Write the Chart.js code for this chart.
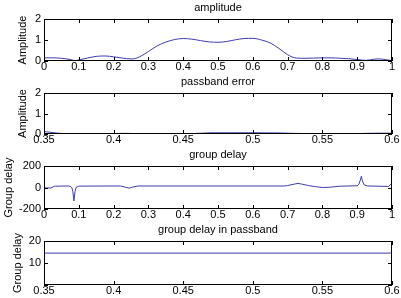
<!DOCTYPE html>
<html>
<head>
<meta charset="utf-8">
<script src="https://cdn.jsdelivr.net/npm/chart.js@4.4.1/dist/chart.umd.min.js"></script>
<style>
  body { margin: 0; background: #fff; width: 401px; height: 298px; overflow: hidden; position: relative; }
  canvas { position: absolute; left: 0; }
</style>
</head>
<body>
<canvas id="c1" width="401" height="75" style="top:0px"></canvas>
<canvas id="c2" width="401" height="74" style="top:75px"></canvas>
<canvas id="c3" width="401" height="74" style="top:149px"></canvas>
<canvas id="c4" width="401" height="75" style="top:223px"></canvas>
<script>
// data block
const ampFreq = [0, 0.025, 0.05, 0.075, 0.09, 0.1, 0.125, 0.15, 0.175, 0.2, 0.225, 0.25, 0.26, 0.275,
  0.3, 0.325, 0.35, 0.375, 0.4, 0.425, 0.45, 0.475, 0.5, 0.525, 0.55, 0.575, 0.6, 0.625, 0.65, 0.675,
  0.7, 0.725, 0.75, 0.775, 0.8, 0.825, 0.85, 0.875, 0.9, 0.925, 0.95, 0.96, 0.975, 1];
const ampValues = [0.15, 0.15, 0.13, 0.07, 0.02, 0.05, 0.14, 0.22, 0.24, 0.2, 0.14, 0.1, 0.11, 0.2,
  0.45, 0.72, 0.9, 1.02, 1.07, 1.04, 0.97, 0.91, 0.89, 0.93, 1.01, 1.07, 1.08, 1.0, 0.86, 0.6,
  0.3, 0.14, 0.13, 0.14, 0.15, 0.15, 0.13, 0.11, 0.07, 0.03, 0.09, 0.1, 0.08, 0.02];

const errFreq = [0.35, 0.355, 0.36, 0.365, 0.37, 0.38, 0.395, 0.4, 0.405, 0.41, 0.415, 0.42, 0.45,
  0.455, 0.46, 0.47, 0.48, 0.5, 0.52, 0.53, 0.54, 0.545, 0.55, 0.57, 0.575, 0.58, 0.59, 0.6];
const errValues = [0.12, 0.08, 0.04, 0.01, 0, 0, 0, 0.02, 0.03, 0.03, 0.02, 0.005, 0.005,
  0.02, 0.03, 0.06, 0.06, 0.06, 0.05, 0.03, 0.02, 0.01, 0, 0, 0.02, 0.03, 0.04, 0.04];

const delayFreq = [0, 0.02, 0.03, 0.07, 0.075, 0.08, 0.083, 0.086, 0.089, 0.092, 0.1, 0.22, 0.235,
  0.245, 0.255, 0.27, 0.69, 0.7, 0.72, 0.73, 0.74, 0.76, 0.78, 0.8, 0.82, 0.85, 0.9, 0.905, 0.909,
  0.912, 0.915, 0.92, 0.93, 0.99, 1];
const delayValues = [-5, -4, 12, 14, 12, 0, -40, -125, -40, 0, 13, 14, 2,
  -6, 4, 14, 14, 18, 32, 38, 32, 18, 8, 0, 2, 12, 16, 30, 70,
  105, 60, 25, 14, 10, 40];

const pbFreq = [0.35, 0.6];
const pbDelay = [14.5, 14.5];

// tick labels
const xTicksFull = [0, 0.1, 0.2, 0.3, 0.4, 0.5, 0.6, 0.7, 0.8, 0.9, 1];
const xTicksPass = [0.35, 0.4, 0.45, 0.5, 0.55, 0.6];
const yTicksAmp = [0, 1, 2];
const yTicksDelay = [-200, 0, 200];
const yTicksPbDelay = [0, 10, 20];

Chart.defaults.font.family = "'Liberation Sans', Arial, sans-serif";
Chart.defaults.font.size = 11;
Chart.defaults.color = '#000';

const lineColor = '#3c3cb0';

// box, inner ticks and title
const matlabAxes = {
  id: 'matlabAxes',
  afterDraw(chart, args, opts) {
    const { ctx, chartArea: { top, bottom, left, right } } = chart;
    ctx.save();
    ctx.strokeStyle = '#000';
    ctx.lineWidth = 1;
    ctx.strokeRect(left + 0.5, top + 0.5, right - left - 1, bottom - top - 1);
    ctx.beginPath();
    chart.scales.x.ticks.forEach(t => {
      const px = Math.round(chart.scales.x.getPixelForValue(t.value)) + 0.5;
      ctx.moveTo(px, bottom); ctx.lineTo(px, bottom - 4);
      ctx.moveTo(px, top); ctx.lineTo(px, top + 4);
    });
    chart.scales.y.ticks.forEach(t => {
      const py = Math.round(chart.scales.y.getPixelForValue(t.value)) + 0.5;
      ctx.moveTo(left, py); ctx.lineTo(left + 4, py);
      ctx.moveTo(right, py); ctx.lineTo(right - 4, py);
    });
    ctx.stroke();
    ctx.fillStyle = '#000';
    ctx.font = "11px 'Liberation Sans', Arial, sans-serif";
    ctx.textAlign = 'center';
    ctx.textBaseline = 'middle';
    ctx.fillText(opts.text, (left + right) / 2, top - 11);
    ctx.restore();
  }
};

const fmt = v => String(Number(v.toFixed(2)));

const makeChart = (id, p) => {
  const canvas = document.getElementById(id);
  return new Chart(canvas, {
    type: 'line',
    data: {
      datasets: [{
        data: p.xs.map((x, i) => ({ x: x, y: p.ys[i] })),
        borderColor: lineColor,
        borderWidth: 1,
        pointRadius: 0,
        tension: p.tension || 0,
        cubicInterpolationMode: p.tension ? 'monotone' : 'default'
      }]
    },
    options: {
      responsive: false,
      animation: false,
      events: [],
      layout: { padding: { top: p.boxTop, right: 9, left: 0, bottom: 0 } },
      plugins: {
        legend: { display: false },
        tooltip: { enabled: false },
        matlabAxes: { text: p.title }
      },
      scales: {
        x: {
          type: 'linear',
          min: p.xTicks[0],
          max: p.xTicks[p.xTicks.length - 1],
          grid: { display: false, drawTicks: false },
          border: { display: false },
          afterBuildTicks: s => { s.ticks = p.xTicks.map(v => ({ value: v })); },
          afterFit: s => { s.height = canvas.height - p.boxBottom; },
          ticks: { padding: -1, maxRotation: 0, autoSkip: false, callback: v => fmt(v) }
        },
        y: {
          min: p.yTicks[0],
          max: p.yTicks[p.yTicks.length - 1],
          grid: { display: false, drawTicks: false },
          border: { display: false },
          afterBuildTicks: s => { s.ticks = p.yTicks.map(v => ({ value: v })); },
          afterFit: s => { s.width = 44; },
          ticks: { padding: 3, callback: v => (p.hideZero && v === 0) ? '' : fmt(v) },
          title: { display: true, text: p.yLabel, padding: { top: p.yTitlePad, bottom: 0 } }
        }
      }
    },
    plugins: [matlabAxes]
  });
};

makeChart('c1', { xs: ampFreq, ys: ampValues, xTicks: xTicksFull, yTicks: yTicksAmp, tension: 0.4,
  title: 'amplitude', yLabel: 'Amplitude', boxTop: 19, boxBottom: 61, yTitlePad: 16 });
makeChart('c2', { xs: errFreq, ys: errValues, xTicks: xTicksPass, yTicks: yTicksAmp,
  title: 'passband error', yLabel: 'Amplitude', boxTop: 18, boxBottom: 59, yTitlePad: 16 });
makeChart('c3', { xs: delayFreq, ys: delayValues, xTicks: xTicksFull, yTicks: yTicksDelay,
  title: 'group delay', yLabel: 'Group delay', boxTop: 17, boxBottom: 60, yTitlePad: 2 });
makeChart('c4', { xs: pbFreq, ys: pbDelay, xTicks: xTicksPass, yTicks: yTicksPbDelay, hideZero: true,
  title: 'group delay in passband', yLabel: 'Group delay', boxTop: 18, boxBottom: 62, yTitlePad: 11 });
</script>
</body>
</html>
